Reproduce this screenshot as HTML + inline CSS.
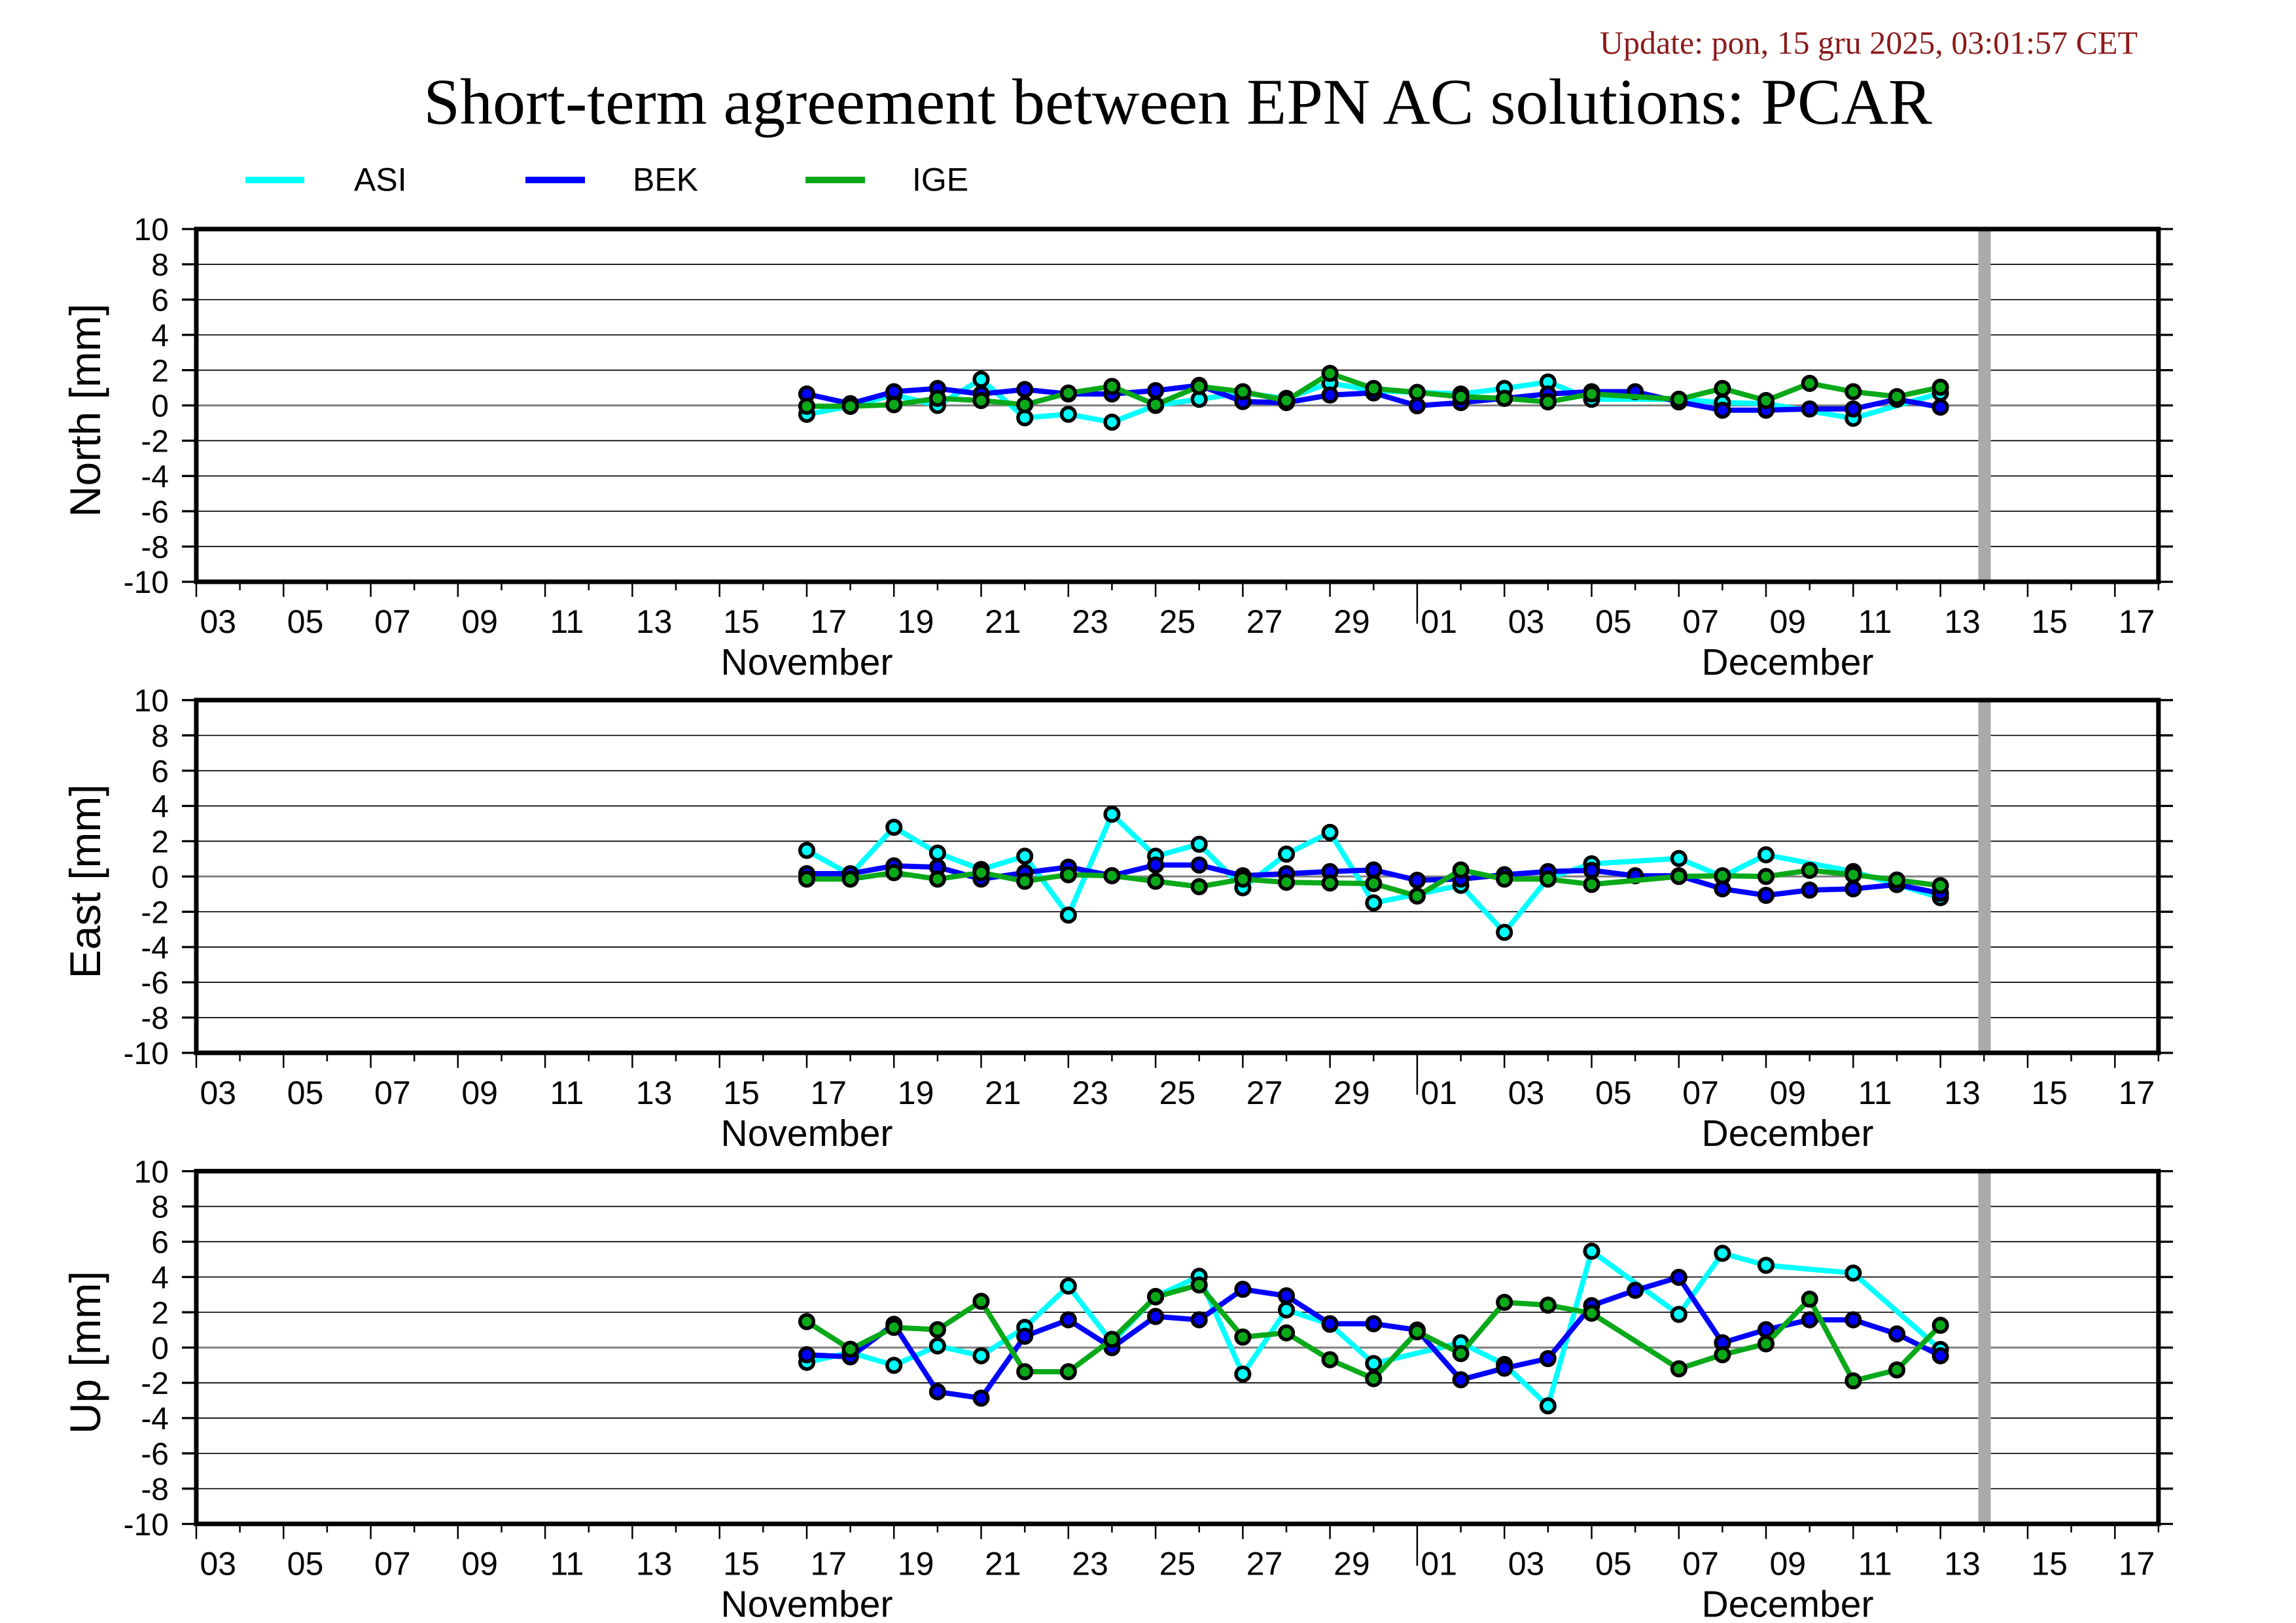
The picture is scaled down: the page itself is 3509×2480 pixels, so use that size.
<!DOCTYPE html>
<html><head><meta charset="utf-8"><style>
html,body{margin:0;padding:0;background:#fff;}
svg{display:block;}
.t{font-family:"Liberation Sans",Arial,sans-serif;}
.yl{font-family:"Liberation Sans",Arial,sans-serif;font-size:48px;text-anchor:end;}
.xl{font-family:"Liberation Sans",Arial,sans-serif;font-size:50px;text-anchor:middle;}
.ml{font-family:"Liberation Sans",Arial,sans-serif;font-size:57px;text-anchor:middle;}
.ax{font-family:"Liberation Sans",Arial,sans-serif;font-size:66px;text-anchor:middle;}
.grid{stroke:#000;stroke-width:1.7;}
.zero{stroke:#808080;stroke-width:3;}
.la{fill:none;stroke:#00ffff;stroke-width:8;stroke-linejoin:round;}
.lb{fill:none;stroke:#0000ff;stroke-width:8;stroke-linejoin:round;}
.lg{fill:none;stroke:#0aa919;stroke-width:8;stroke-linejoin:round;}
circle{stroke:#000;stroke-width:5.5;}
.a{fill:#00ffff;} .b{fill:#0000ff;} .g{fill:#0aa919;}
</style></head><body>
<svg width="3509" height="2480" viewBox="0 0 3509 2480" xmlns="http://www.w3.org/2000/svg">
<rect x="0" y="0" width="3509" height="2480" fill="#fff"/>
<text x="3267" y="82" font-family="Liberation Serif,serif" font-size="50" fill="#8b1a1a" text-anchor="end">Update: pon, 15 gru 2025, 03:01:57 CET</text>
<text x="1800" y="189" font-family="Liberation Serif,serif" font-size="100" fill="#000" text-anchor="middle">Short-term agreement between EPN AC solutions: PCAR</text>
<rect x="375" y="270" width="90" height="10" fill="#00ffff"/>
<text class="t" x="541" y="291.7" font-size="50">ASI</text>
<rect x="803" y="270" width="91" height="10" fill="#0000ff"/>
<text class="t" x="967" y="291.7" font-size="50">BEK</text>
<rect x="1231" y="270" width="91" height="10" fill="#0aa919"/>
<text class="t" x="1394" y="291.7" font-size="50">IGE</text>

<g>
<path class="grid" d="M300 403.9H3299M300 457.8H3299M300 511.7H3299M300 565.6H3299M300 673.4H3299M300 727.3H3299M300 781.2H3299M300 835.1H3299"/>
<path class="zero" d="M300 619.5H3299"/>
<rect x="3023.5" y="350" width="19" height="539" fill="#aaaaaa"/>
</g>
<g transform="translate(0,719.8)">
<path class="grid" d="M300 403.9H3299M300 457.8H3299M300 511.7H3299M300 565.6H3299M300 673.4H3299M300 727.3H3299M300 781.2H3299M300 835.1H3299"/>
<path class="zero" d="M300 619.5H3299"/>
<rect x="3023.5" y="350" width="19" height="539" fill="#aaaaaa"/>
</g>
<g transform="translate(0,1439.6)">
<path class="grid" d="M300 403.9H3299M300 457.8H3299M300 511.7H3299M300 565.6H3299M300 673.4H3299M300 727.3H3299M300 781.2H3299M300 835.1H3299"/>
<path class="zero" d="M300 619.5H3299"/>
<rect x="3023.5" y="350" width="19" height="539" fill="#aaaaaa"/>
</g>

<!-- DATA North -->
<polyline class="la" points="1233.0,633.0 1299.6,620.8 1366.2,603.3 1432.9,619.5 1499.5,579.6 1566.2,638.4 1632.8,633.0 1699.4,645.1 1766.1,619.5 1832.7,610.1 1899.4,600.6 1966.0,608.7 2032.6,585.3 2099.3,596.9 2232.6,602.0 2299.2,593.6 2365.8,583.7 2432.5,610.1 2565.8,610.1 2632.4,615.2 2699.0,616.8 2832.3,639.2 2965.6,600.6"/>
<g class="a">
<circle cx="1233.0" cy="633.0" r="10.3"/><circle cx="1299.6" cy="620.8" r="10.3"/><circle cx="1366.2" cy="603.3" r="10.3"/><circle cx="1432.9" cy="619.5" r="10.3"/><circle cx="1499.5" cy="579.6" r="10.3"/><circle cx="1566.2" cy="638.4" r="10.3"/><circle cx="1632.8" cy="633.0" r="10.3"/><circle cx="1699.4" cy="645.1" r="10.3"/><circle cx="1766.1" cy="619.5" r="10.3"/><circle cx="1832.7" cy="610.1" r="10.3"/><circle cx="1899.4" cy="600.6" r="10.3"/><circle cx="1966.0" cy="608.7" r="10.3"/><circle cx="2032.6" cy="585.3" r="10.3"/><circle cx="2099.3" cy="596.9" r="10.3"/><circle cx="2232.6" cy="602.0" r="10.3"/><circle cx="2299.2" cy="593.6" r="10.3"/><circle cx="2365.8" cy="583.7" r="10.3"/><circle cx="2432.5" cy="610.1" r="10.3"/><circle cx="2565.8" cy="610.1" r="10.3"/><circle cx="2632.4" cy="615.2" r="10.3"/><circle cx="2699.0" cy="616.8" r="10.3"/><circle cx="2832.3" cy="639.2" r="10.3"/><circle cx="2965.6" cy="600.6" r="10.3"/>
</g>
<polyline class="lb" points="1233.0,602.0 1299.6,616.8 1366.2,598.5 1432.9,593.6 1499.5,602.0 1566.2,595.2 1632.8,602.0 1699.4,602.0 1766.1,596.9 1832.7,588.8 1899.4,613.6 1966.0,615.2 2032.6,603.6 2099.3,600.4 2165.9,620.0 2232.6,615.2 2299.2,608.7 2365.8,602.0 2432.5,598.5 2499.1,598.5 2565.8,614.1 2632.4,626.8 2699.0,626.8 2765.7,624.9 2832.3,624.9 2899.0,610.1 2965.6,622.2"/>
<g class="b">
<circle cx="1233.0" cy="602.0" r="10.3"/><circle cx="1299.6" cy="616.8" r="10.3"/><circle cx="1366.2" cy="598.5" r="10.3"/><circle cx="1432.9" cy="593.6" r="10.3"/><circle cx="1499.5" cy="602.0" r="10.3"/><circle cx="1566.2" cy="595.2" r="10.3"/><circle cx="1632.8" cy="602.0" r="10.3"/><circle cx="1699.4" cy="602.0" r="10.3"/><circle cx="1766.1" cy="596.9" r="10.3"/><circle cx="1832.7" cy="588.8" r="10.3"/><circle cx="1899.4" cy="613.6" r="10.3"/><circle cx="1966.0" cy="615.2" r="10.3"/><circle cx="2032.6" cy="603.6" r="10.3"/><circle cx="2099.3" cy="600.4" r="10.3"/><circle cx="2165.9" cy="620.0" r="10.3"/><circle cx="2232.6" cy="615.2" r="10.3"/><circle cx="2299.2" cy="608.7" r="10.3"/><circle cx="2365.8" cy="602.0" r="10.3"/><circle cx="2432.5" cy="598.5" r="10.3"/><circle cx="2499.1" cy="598.5" r="10.3"/><circle cx="2565.8" cy="614.1" r="10.3"/><circle cx="2632.4" cy="626.8" r="10.3"/><circle cx="2699.0" cy="626.8" r="10.3"/><circle cx="2765.7" cy="624.9" r="10.3"/><circle cx="2832.3" cy="624.9" r="10.3"/><circle cx="2899.0" cy="610.1" r="10.3"/><circle cx="2965.6" cy="622.2" r="10.3"/>
</g>
<polyline class="lg" points="1233.0,620.8 1299.6,620.8 1366.2,618.4 1432.9,608.7 1499.5,612.0 1566.2,618.4 1632.8,600.6 1699.4,590.4 1766.1,618.4 1832.7,590.4 1899.4,598.5 1966.0,612.0 2032.6,570.5 2099.3,593.6 2165.9,599.6 2232.6,606.3 2299.2,608.7 2365.8,614.1 2432.5,602.0 2565.8,610.1 2632.4,593.6 2699.0,612.0 2765.7,585.8 2832.3,598.5 2899.0,606.0 2965.6,591.7"/>
<g class="g">
<circle cx="1233.0" cy="620.8" r="10.3"/><circle cx="1299.6" cy="620.8" r="10.3"/><circle cx="1366.2" cy="618.4" r="10.3"/><circle cx="1432.9" cy="608.7" r="10.3"/><circle cx="1499.5" cy="612.0" r="10.3"/><circle cx="1566.2" cy="618.4" r="10.3"/><circle cx="1632.8" cy="600.6" r="10.3"/><circle cx="1699.4" cy="590.4" r="10.3"/><circle cx="1766.1" cy="618.4" r="10.3"/><circle cx="1832.7" cy="590.4" r="10.3"/><circle cx="1899.4" cy="598.5" r="10.3"/><circle cx="1966.0" cy="612.0" r="10.3"/><circle cx="2032.6" cy="570.5" r="10.3"/><circle cx="2099.3" cy="593.6" r="10.3"/><circle cx="2165.9" cy="599.6" r="10.3"/><circle cx="2232.6" cy="606.3" r="10.3"/><circle cx="2299.2" cy="608.7" r="10.3"/><circle cx="2365.8" cy="614.1" r="10.3"/><circle cx="2432.5" cy="602.0" r="10.3"/><circle cx="2565.8" cy="610.1" r="10.3"/><circle cx="2632.4" cy="593.6" r="10.3"/><circle cx="2699.0" cy="612.0" r="10.3"/><circle cx="2765.7" cy="585.8" r="10.3"/><circle cx="2832.3" cy="598.5" r="10.3"/><circle cx="2899.0" cy="606.0" r="10.3"/><circle cx="2965.6" cy="591.7" r="10.3"/>
</g>

<!-- DATA East -->
<polyline class="la" points="1233.0,1299.4 1299.6,1336.6 1366.2,1264.1 1432.9,1303.5 1499.5,1328.5 1566.2,1308.3 1632.8,1398.3 1699.4,1244.2 1766.1,1308.3 1832.7,1290.0 1899.4,1356.5 1966.0,1305.1 2032.6,1271.9 2099.3,1379.7 2232.6,1352.8 2299.2,1424.7 2365.8,1342.0 2432.5,1319.9 2565.8,1311.8 2632.4,1339.3 2699.0,1306.2 2832.3,1331.8 2965.6,1371.6"/>
<g class="a">
<circle cx="1233.0" cy="1299.4" r="10.3"/><circle cx="1299.6" cy="1336.6" r="10.3"/><circle cx="1366.2" cy="1264.1" r="10.3"/><circle cx="1432.9" cy="1303.5" r="10.3"/><circle cx="1499.5" cy="1328.5" r="10.3"/><circle cx="1566.2" cy="1308.3" r="10.3"/><circle cx="1632.8" cy="1398.3" r="10.3"/><circle cx="1699.4" cy="1244.2" r="10.3"/><circle cx="1766.1" cy="1308.3" r="10.3"/><circle cx="1832.7" cy="1290.0" r="10.3"/><circle cx="1899.4" cy="1356.5" r="10.3"/><circle cx="1966.0" cy="1305.1" r="10.3"/><circle cx="2032.6" cy="1271.9" r="10.3"/><circle cx="2099.3" cy="1379.7" r="10.3"/><circle cx="2232.6" cy="1352.8" r="10.3"/><circle cx="2299.2" cy="1424.7" r="10.3"/><circle cx="2365.8" cy="1342.0" r="10.3"/><circle cx="2432.5" cy="1319.9" r="10.3"/><circle cx="2565.8" cy="1311.8" r="10.3"/><circle cx="2632.4" cy="1339.3" r="10.3"/><circle cx="2699.0" cy="1306.2" r="10.3"/><circle cx="2832.3" cy="1331.8" r="10.3"/><circle cx="2965.6" cy="1371.6" r="10.3"/>
</g>
<polyline class="lb" points="1233.0,1335.0 1299.6,1335.0 1366.2,1323.1 1432.9,1325.0 1499.5,1343.3 1566.2,1333.4 1632.8,1325.0 1699.4,1338.0 1766.1,1321.8 1832.7,1321.8 1899.4,1338.2 1966.0,1335.0 2032.6,1331.8 2099.3,1329.3 2165.9,1345.0 2232.6,1343.3 2299.2,1336.6 2365.8,1331.8 2432.5,1329.9 2499.1,1338.2 2565.8,1338.2 2632.4,1358.2 2699.0,1368.1 2765.7,1360.1 2832.3,1358.2 2899.0,1351.7 2965.6,1364.9"/>
<g class="b">
<circle cx="1233.0" cy="1335.0" r="10.3"/><circle cx="1299.6" cy="1335.0" r="10.3"/><circle cx="1366.2" cy="1323.1" r="10.3"/><circle cx="1432.9" cy="1325.0" r="10.3"/><circle cx="1499.5" cy="1343.3" r="10.3"/><circle cx="1566.2" cy="1333.4" r="10.3"/><circle cx="1632.8" cy="1325.0" r="10.3"/><circle cx="1699.4" cy="1338.0" r="10.3"/><circle cx="1766.1" cy="1321.8" r="10.3"/><circle cx="1832.7" cy="1321.8" r="10.3"/><circle cx="1899.4" cy="1338.2" r="10.3"/><circle cx="1966.0" cy="1335.0" r="10.3"/><circle cx="2032.6" cy="1331.8" r="10.3"/><circle cx="2099.3" cy="1329.3" r="10.3"/><circle cx="2165.9" cy="1345.0" r="10.3"/><circle cx="2232.6" cy="1343.3" r="10.3"/><circle cx="2299.2" cy="1336.6" r="10.3"/><circle cx="2365.8" cy="1331.8" r="10.3"/><circle cx="2432.5" cy="1329.9" r="10.3"/><circle cx="2499.1" cy="1338.2" r="10.3"/><circle cx="2565.8" cy="1338.2" r="10.3"/><circle cx="2632.4" cy="1358.2" r="10.3"/><circle cx="2699.0" cy="1368.1" r="10.3"/><circle cx="2765.7" cy="1360.1" r="10.3"/><circle cx="2832.3" cy="1358.2" r="10.3"/><circle cx="2899.0" cy="1351.7" r="10.3"/><circle cx="2965.6" cy="1364.9" r="10.3"/>
</g>
<polyline class="lg" points="1233.0,1343.3 1299.6,1343.3 1366.2,1333.4 1432.9,1343.3 1499.5,1333.4 1566.2,1346.6 1632.8,1336.6 1699.4,1338.2 1766.1,1346.6 1832.7,1354.9 1899.4,1343.3 1966.0,1348.2 2032.6,1349.3 2099.3,1350.1 2165.9,1369.2 2232.6,1329.3 2299.2,1343.3 2365.8,1343.3 2432.5,1351.4 2565.8,1339.3 2632.4,1338.2 2699.0,1339.3 2765.7,1329.9 2832.3,1336.6 2899.0,1344.7 2965.6,1353.3"/>
<g class="g">
<circle cx="1233.0" cy="1343.3" r="10.3"/><circle cx="1299.6" cy="1343.3" r="10.3"/><circle cx="1366.2" cy="1333.4" r="10.3"/><circle cx="1432.9" cy="1343.3" r="10.3"/><circle cx="1499.5" cy="1333.4" r="10.3"/><circle cx="1566.2" cy="1346.6" r="10.3"/><circle cx="1632.8" cy="1336.6" r="10.3"/><circle cx="1699.4" cy="1338.2" r="10.3"/><circle cx="1766.1" cy="1346.6" r="10.3"/><circle cx="1832.7" cy="1354.9" r="10.3"/><circle cx="1899.4" cy="1343.3" r="10.3"/><circle cx="1966.0" cy="1348.2" r="10.3"/><circle cx="2032.6" cy="1349.3" r="10.3"/><circle cx="2099.3" cy="1350.1" r="10.3"/><circle cx="2165.9" cy="1369.2" r="10.3"/><circle cx="2232.6" cy="1329.3" r="10.3"/><circle cx="2299.2" cy="1343.3" r="10.3"/><circle cx="2365.8" cy="1343.3" r="10.3"/><circle cx="2432.5" cy="1351.4" r="10.3"/><circle cx="2565.8" cy="1339.3" r="10.3"/><circle cx="2632.4" cy="1338.2" r="10.3"/><circle cx="2699.0" cy="1339.3" r="10.3"/><circle cx="2765.7" cy="1329.9" r="10.3"/><circle cx="2832.3" cy="1336.6" r="10.3"/><circle cx="2899.0" cy="1344.7" r="10.3"/><circle cx="2965.6" cy="1353.3" r="10.3"/>
</g>

<!-- DATA Up -->
<polyline class="la" points="1233.0,2081.7 1299.6,2066.6 1366.2,2086.3 1432.9,2056.6 1499.5,2071.7 1566.2,2028.3 1632.8,1965.2 1699.4,2051.2 1766.1,1981.1 1832.7,1950.2 1899.4,2099.7 1966.0,2001.6 2032.6,2023.5 2099.3,2083.5 2232.6,2051.8 2299.2,2084.9 2365.8,2148.2 2432.5,1911.9 2565.8,2008.4 2632.4,1915.1 2699.0,1933.4 2832.3,1945.3 2965.6,2062.0"/>
<g class="a">
<circle cx="1233.0" cy="2081.7" r="10.3"/><circle cx="1299.6" cy="2066.6" r="10.3"/><circle cx="1366.2" cy="2086.3" r="10.3"/><circle cx="1432.9" cy="2056.6" r="10.3"/><circle cx="1499.5" cy="2071.7" r="10.3"/><circle cx="1566.2" cy="2028.3" r="10.3"/><circle cx="1632.8" cy="1965.2" r="10.3"/><circle cx="1699.4" cy="2051.2" r="10.3"/><circle cx="1766.1" cy="1981.1" r="10.3"/><circle cx="1832.7" cy="1950.2" r="10.3"/><circle cx="1899.4" cy="2099.7" r="10.3"/><circle cx="1966.0" cy="2001.6" r="10.3"/><circle cx="2032.6" cy="2023.5" r="10.3"/><circle cx="2099.3" cy="2083.5" r="10.3"/><circle cx="2232.6" cy="2051.8" r="10.3"/><circle cx="2299.2" cy="2084.9" r="10.3"/><circle cx="2365.8" cy="2148.2" r="10.3"/><circle cx="2432.5" cy="1911.9" r="10.3"/><circle cx="2565.8" cy="2008.4" r="10.3"/><circle cx="2632.4" cy="1915.1" r="10.3"/><circle cx="2699.0" cy="1933.4" r="10.3"/><circle cx="2832.3" cy="1945.3" r="10.3"/><circle cx="2965.6" cy="2062.0" r="10.3"/>
</g>
<polyline class="lb" points="1233.0,2070.1 1299.6,2073.3 1366.2,2023.5 1432.9,2126.7 1499.5,2136.4 1566.2,2041.8 1632.8,2016.7 1699.4,2059.3 1766.1,2011.6 1832.7,2016.7 1899.4,1970.1 1966.0,1980.1 2032.6,2022.7 2099.3,2022.7 2165.9,2032.3 2232.6,2108.3 2299.2,2090.6 2365.8,2076.0 2432.5,1995.0 2499.1,1971.7 2565.8,1951.8 2632.4,2051.8 2699.0,2031.8 2765.7,2016.7 2832.3,2016.7 2899.0,2038.3 2965.6,2071.7"/>
<g class="b">
<circle cx="1233.0" cy="2070.1" r="10.3"/><circle cx="1299.6" cy="2073.3" r="10.3"/><circle cx="1366.2" cy="2023.5" r="10.3"/><circle cx="1432.9" cy="2126.7" r="10.3"/><circle cx="1499.5" cy="2136.4" r="10.3"/><circle cx="1566.2" cy="2041.8" r="10.3"/><circle cx="1632.8" cy="2016.7" r="10.3"/><circle cx="1699.4" cy="2059.3" r="10.3"/><circle cx="1766.1" cy="2011.6" r="10.3"/><circle cx="1832.7" cy="2016.7" r="10.3"/><circle cx="1899.4" cy="1970.1" r="10.3"/><circle cx="1966.0" cy="1980.1" r="10.3"/><circle cx="2032.6" cy="2022.7" r="10.3"/><circle cx="2099.3" cy="2022.7" r="10.3"/><circle cx="2165.9" cy="2032.3" r="10.3"/><circle cx="2232.6" cy="2108.3" r="10.3"/><circle cx="2299.2" cy="2090.6" r="10.3"/><circle cx="2365.8" cy="2076.0" r="10.3"/><circle cx="2432.5" cy="1995.0" r="10.3"/><circle cx="2499.1" cy="1971.7" r="10.3"/><circle cx="2565.8" cy="1951.8" r="10.3"/><circle cx="2632.4" cy="2051.8" r="10.3"/><circle cx="2699.0" cy="2031.8" r="10.3"/><circle cx="2765.7" cy="2016.7" r="10.3"/><circle cx="2832.3" cy="2016.7" r="10.3"/><circle cx="2899.0" cy="2038.3" r="10.3"/><circle cx="2965.6" cy="2071.7" r="10.3"/>
</g>
<polyline class="lg" points="1233.0,2019.4 1299.6,2061.7 1366.2,2028.3 1432.9,2031.8 1499.5,1988.4 1566.2,2096.0 1632.8,2096.0 1699.4,2046.6 1766.1,1981.7 1832.7,1963.4 1899.4,2043.1 1966.0,2036.7 2032.6,2077.7 2099.3,2106.7 2165.9,2035.0 2232.6,2068.3 2299.2,1990.0 2365.8,1994.3 2432.5,2006.7 2565.8,2091.6 2632.4,2070.1 2699.0,2053.4 2765.7,1985.2 2832.3,2110.0 2899.0,2093.3 2965.6,2025.1"/>
<g class="g">
<circle cx="1233.0" cy="2019.4" r="10.3"/><circle cx="1299.6" cy="2061.7" r="10.3"/><circle cx="1366.2" cy="2028.3" r="10.3"/><circle cx="1432.9" cy="2031.8" r="10.3"/><circle cx="1499.5" cy="1988.4" r="10.3"/><circle cx="1566.2" cy="2096.0" r="10.3"/><circle cx="1632.8" cy="2096.0" r="10.3"/><circle cx="1699.4" cy="2046.6" r="10.3"/><circle cx="1766.1" cy="1981.7" r="10.3"/><circle cx="1832.7" cy="1963.4" r="10.3"/><circle cx="1899.4" cy="2043.1" r="10.3"/><circle cx="1966.0" cy="2036.7" r="10.3"/><circle cx="2032.6" cy="2077.7" r="10.3"/><circle cx="2099.3" cy="2106.7" r="10.3"/><circle cx="2165.9" cy="2035.0" r="10.3"/><circle cx="2232.6" cy="2068.3" r="10.3"/><circle cx="2299.2" cy="1990.0" r="10.3"/><circle cx="2365.8" cy="1994.3" r="10.3"/><circle cx="2432.5" cy="2006.7" r="10.3"/><circle cx="2565.8" cy="2091.6" r="10.3"/><circle cx="2632.4" cy="2070.1" r="10.3"/><circle cx="2699.0" cy="2053.4" r="10.3"/><circle cx="2765.7" cy="1985.2" r="10.3"/><circle cx="2832.3" cy="2110.0" r="10.3"/><circle cx="2899.0" cy="2093.3" r="10.3"/><circle cx="2965.6" cy="2025.1" r="10.3"/>
</g>

<!-- North frame/axes -->
<g>
<rect x="300" y="350" width="2998.8" height="539" fill="none" stroke="#000" stroke-width="7"/>
<path stroke="#000" stroke-width="3.3" d="M278 350H300M278 403.9H300M278 457.8H300M278 511.7H300M278 565.6H300M278 619.5H300M278 673.4H300M278 727.3H300M278 781.2H300M278 835.1H300M278 889H300M3299 350H3321M3299 403.9H3321M3299 457.8H3321M3299 511.7H3321M3299 565.6H3321M3299 619.5H3321M3299 673.4H3321M3299 727.3H3321M3299 781.2H3321M3299 835.1H3321M3299 889H3321"/>
<path stroke="#000" stroke-width="2.5" d="M300 889V912M366.6 889V902M433.3 889V912M499.9 889V902M566.6 889V912M633.2 889V902M699.8 889V912M766.5 889V902M833.1 889V912M899.8 889V902M966.4 889V912M1033 889V902M1099.7 889V912M1166.3 889V902M1233 889V912M1299.6 889V902M1366.2 889V912M1432.9 889V902M1499.5 889V912M1566.2 889V902M1632.8 889V912M1699.4 889V902M1766.1 889V912M1832.7 889V902M1899.4 889V912M1966 889V902M2032.6 889V912M2099.3 889V902M2165.9 889V953M2232.6 889V902M2299.2 889V912M2365.8 889V902M2432.5 889V912M2499.1 889V902M2565.8 889V912M2632.4 889V902M2699 889V912M2765.7 889V902M2832.3 889V912M2899 889V902M2965.6 889V912M3032.2 889V902M3098.9 889V912M3165.5 889V902M3232.2 889V912M3298.8 889V902"/>
<text class="yl" x="258" y="367.2">10</text><text class="yl" x="258" y="421.1">8</text><text class="yl" x="258" y="475">6</text><text class="yl" x="258" y="528.9">4</text><text class="yl" x="258" y="582.8">2</text><text class="yl" x="258" y="636.7">0</text><text class="yl" x="258" y="690.6">-2</text><text class="yl" x="258" y="744.5">-4</text><text class="yl" x="258" y="798.4">-6</text><text class="yl" x="258" y="852.3">-8</text><text class="yl" x="258" y="906.2">-10</text>
<text class="xl" x="333.3" y="967">03</text><text class="xl" x="466.6" y="967">05</text><text class="xl" x="599.9" y="967">07</text><text class="xl" x="733.2" y="967">09</text><text class="xl" x="866.4" y="967">11</text><text class="xl" x="999.7" y="967">13</text><text class="xl" x="1133" y="967">15</text><text class="xl" x="1266.3" y="967">17</text><text class="xl" x="1399.6" y="967">19</text><text class="xl" x="1532.8" y="967">21</text><text class="xl" x="1666.1" y="967">23</text><text class="xl" x="1799.4" y="967">25</text><text class="xl" x="1932.6" y="967">27</text><text class="xl" x="2065.9" y="967">29</text><text class="xl" x="2199.2" y="967">01</text><text class="xl" x="2332.5" y="967">03</text><text class="xl" x="2465.8" y="967">05</text><text class="xl" x="2599.1" y="967">07</text><text class="xl" x="2732.3" y="967">09</text><text class="xl" x="2865.6" y="967">11</text><text class="xl" x="2998.9" y="967">13</text><text class="xl" x="3132.2" y="967">15</text><text class="xl" x="3265.5" y="967">17</text>
<text class="ml" x="1233" y="1031">November</text><text class="ml" x="2732" y="1031">December</text>
<text class="ax" transform="translate(153,627) rotate(-90)">North [mm]</text>
</g>
<!-- East -->
<g transform="translate(0,719.8)">
<rect x="300" y="350" width="2998.8" height="539" fill="none" stroke="#000" stroke-width="7"/>
<path stroke="#000" stroke-width="3.3" d="M278 350H300M278 403.9H300M278 457.8H300M278 511.7H300M278 565.6H300M278 619.5H300M278 673.4H300M278 727.3H300M278 781.2H300M278 835.1H300M278 889H300M3299 350H3321M3299 403.9H3321M3299 457.8H3321M3299 511.7H3321M3299 565.6H3321M3299 619.5H3321M3299 673.4H3321M3299 727.3H3321M3299 781.2H3321M3299 835.1H3321M3299 889H3321"/>
<path stroke="#000" stroke-width="2.5" d="M300 889V912M366.6 889V902M433.3 889V912M499.9 889V902M566.6 889V912M633.2 889V902M699.8 889V912M766.5 889V902M833.1 889V912M899.8 889V902M966.4 889V912M1033 889V902M1099.7 889V912M1166.3 889V902M1233 889V912M1299.6 889V902M1366.2 889V912M1432.9 889V902M1499.5 889V912M1566.2 889V902M1632.8 889V912M1699.4 889V902M1766.1 889V912M1832.7 889V902M1899.4 889V912M1966 889V902M2032.6 889V912M2099.3 889V902M2165.9 889V953M2232.6 889V902M2299.2 889V912M2365.8 889V902M2432.5 889V912M2499.1 889V902M2565.8 889V912M2632.4 889V902M2699 889V912M2765.7 889V902M2832.3 889V912M2899 889V902M2965.6 889V912M3032.2 889V902M3098.9 889V912M3165.5 889V902M3232.2 889V912M3298.8 889V902"/>
<text class="yl" x="258" y="367.2">10</text><text class="yl" x="258" y="421.1">8</text><text class="yl" x="258" y="475">6</text><text class="yl" x="258" y="528.9">4</text><text class="yl" x="258" y="582.8">2</text><text class="yl" x="258" y="636.7">0</text><text class="yl" x="258" y="690.6">-2</text><text class="yl" x="258" y="744.5">-4</text><text class="yl" x="258" y="798.4">-6</text><text class="yl" x="258" y="852.3">-8</text><text class="yl" x="258" y="906.2">-10</text>
<text class="xl" x="333.3" y="967">03</text><text class="xl" x="466.6" y="967">05</text><text class="xl" x="599.9" y="967">07</text><text class="xl" x="733.2" y="967">09</text><text class="xl" x="866.4" y="967">11</text><text class="xl" x="999.7" y="967">13</text><text class="xl" x="1133" y="967">15</text><text class="xl" x="1266.3" y="967">17</text><text class="xl" x="1399.6" y="967">19</text><text class="xl" x="1532.8" y="967">21</text><text class="xl" x="1666.1" y="967">23</text><text class="xl" x="1799.4" y="967">25</text><text class="xl" x="1932.6" y="967">27</text><text class="xl" x="2065.9" y="967">29</text><text class="xl" x="2199.2" y="967">01</text><text class="xl" x="2332.5" y="967">03</text><text class="xl" x="2465.8" y="967">05</text><text class="xl" x="2599.1" y="967">07</text><text class="xl" x="2732.3" y="967">09</text><text class="xl" x="2865.6" y="967">11</text><text class="xl" x="2998.9" y="967">13</text><text class="xl" x="3132.2" y="967">15</text><text class="xl" x="3265.5" y="967">17</text>
<text class="ml" x="1233" y="1031">November</text><text class="ml" x="2732" y="1031">December</text>
<text class="ax" transform="translate(153,627) rotate(-90)">East [mm]</text>
</g>
<!-- Up -->
<g transform="translate(0,1439.6)">
<rect x="300" y="350" width="2998.8" height="539" fill="none" stroke="#000" stroke-width="7"/>
<path stroke="#000" stroke-width="3.3" d="M278 350H300M278 403.9H300M278 457.8H300M278 511.7H300M278 565.6H300M278 619.5H300M278 673.4H300M278 727.3H300M278 781.2H300M278 835.1H300M278 889H300M3299 350H3321M3299 403.9H3321M3299 457.8H3321M3299 511.7H3321M3299 565.6H3321M3299 619.5H3321M3299 673.4H3321M3299 727.3H3321M3299 781.2H3321M3299 835.1H3321M3299 889H3321"/>
<path stroke="#000" stroke-width="2.5" d="M300 889V912M366.6 889V902M433.3 889V912M499.9 889V902M566.6 889V912M633.2 889V902M699.8 889V912M766.5 889V902M833.1 889V912M899.8 889V902M966.4 889V912M1033 889V902M1099.7 889V912M1166.3 889V902M1233 889V912M1299.6 889V902M1366.2 889V912M1432.9 889V902M1499.5 889V912M1566.2 889V902M1632.8 889V912M1699.4 889V902M1766.1 889V912M1832.7 889V902M1899.4 889V912M1966 889V902M2032.6 889V912M2099.3 889V902M2165.9 889V953M2232.6 889V902M2299.2 889V912M2365.8 889V902M2432.5 889V912M2499.1 889V902M2565.8 889V912M2632.4 889V902M2699 889V912M2765.7 889V902M2832.3 889V912M2899 889V902M2965.6 889V912M3032.2 889V902M3098.9 889V912M3165.5 889V902M3232.2 889V912M3298.8 889V902"/>
<text class="yl" x="258" y="367.2">10</text><text class="yl" x="258" y="421.1">8</text><text class="yl" x="258" y="475">6</text><text class="yl" x="258" y="528.9">4</text><text class="yl" x="258" y="582.8">2</text><text class="yl" x="258" y="636.7">0</text><text class="yl" x="258" y="690.6">-2</text><text class="yl" x="258" y="744.5">-4</text><text class="yl" x="258" y="798.4">-6</text><text class="yl" x="258" y="852.3">-8</text><text class="yl" x="258" y="906.2">-10</text>
<text class="xl" x="333.3" y="967">03</text><text class="xl" x="466.6" y="967">05</text><text class="xl" x="599.9" y="967">07</text><text class="xl" x="733.2" y="967">09</text><text class="xl" x="866.4" y="967">11</text><text class="xl" x="999.7" y="967">13</text><text class="xl" x="1133" y="967">15</text><text class="xl" x="1266.3" y="967">17</text><text class="xl" x="1399.6" y="967">19</text><text class="xl" x="1532.8" y="967">21</text><text class="xl" x="1666.1" y="967">23</text><text class="xl" x="1799.4" y="967">25</text><text class="xl" x="1932.6" y="967">27</text><text class="xl" x="2065.9" y="967">29</text><text class="xl" x="2199.2" y="967">01</text><text class="xl" x="2332.5" y="967">03</text><text class="xl" x="2465.8" y="967">05</text><text class="xl" x="2599.1" y="967">07</text><text class="xl" x="2732.3" y="967">09</text><text class="xl" x="2865.6" y="967">11</text><text class="xl" x="2998.9" y="967">13</text><text class="xl" x="3132.2" y="967">15</text><text class="xl" x="3265.5" y="967">17</text>
<text class="ml" x="1233" y="1031">November</text><text class="ml" x="2732" y="1031">December</text>
<text class="ax" transform="translate(153,627) rotate(-90)">Up [mm]</text>
</g>
</svg>
</body></html>
